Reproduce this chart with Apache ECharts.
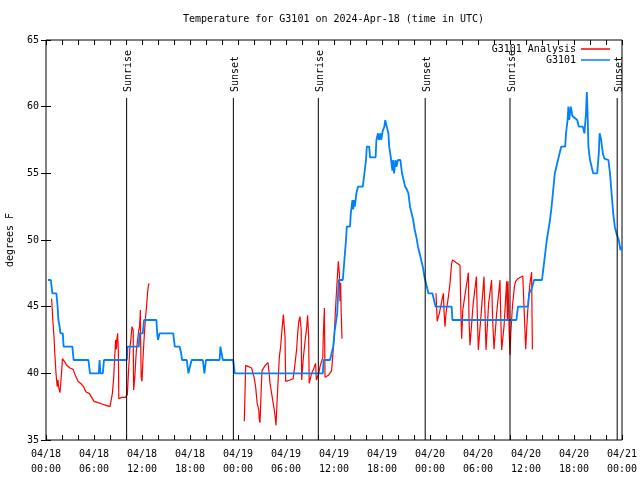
<!DOCTYPE html>
<html>
<head>
<meta charset="utf-8">
<script src="https://cdn.jsdelivr.net/npm/echarts@6/dist/echarts.min.js"></script>
<style>html,body{margin:0;padding:0;background:#fff}#c{width:640px;height:480px}</style>
</head>
<body>
<div id="c"></div>
<script>
// hours since 2024-04-18 00:00 UTC, temperature in degrees F
const stationData = [
[0.25,47],[0.6,47],[0.7,46.5],[0.8,46],[1.3,46],[1.45,45],[1.55,44],[1.7,43.5],[1.8,43],[2.1,43],[2.2,42],[3.3,42],[3.45,41],[5.3,41],[5.5,40],[6.6,40],[6.7,41],[6.8,40],[7.1,40],[7.25,41],[10.1,41],[10.2,42],[11.6,42],[11.7,43],[12.1,43],[12.25,44],[13.8,44],[13.9,43],[14.0,42.5],[14.2,43],[15.9,43],[16.1,42],[16.7,42],[16.9,41.5],[17.0,41],[17.6,41],[17.8,40],[18.0,40],[18.2,41],[19.6,41],[19.8,40],[20.0,41],[21.7,41],[21.8,42],[22.0,42],[22.1,41],[23.4,41],[23.6,40],[34.6,40],[34.7,41],[35.5,41],[35.7,41.5],[35.9,42],[36.1,43.25],[36.4,44.5],[36.6,47],[37.1,47],[37.3,48.5],[37.5,50],[37.6,51],[38.0,51],[38.1,52],[38.3,53],[38.4,52.3],[38.5,53],[38.6,52.5],[38.8,53.5],[39.0,54],[39.6,54],[39.8,55],[40.0,56],[40.1,57],[40.4,57],[40.5,56.2],[41.2,56.2],[41.3,57.5],[41.5,58],[41.6,57.5],[41.8,58],[41.9,57.5],[42.1,58.2],[42.3,58.5],[42.4,59],[42.6,58.5],[42.8,58],[42.9,57],[43.1,56.2],[43.3,55.2],[43.4,56],[43.5,55],[43.7,56],[43.8,55.5],[44.0,56],[44.3,56],[44.5,55],[44.7,54.5],[44.9,54],[45.1,53.8],[45.3,53.5],[45.5,52.5],[45.7,52],[45.9,51.5],[46.1,50.75],[46.3,50.2],[46.5,49.5],[46.7,49.0],[46.9,48.5],[47.1,48],[47.3,47.25],[47.5,46.75],[47.7,46.25],[47.8,46],[48.3,46],[48.5,45.5],[48.7,45],[50.7,45],[50.8,44],[58.8,44],[59.0,45],[60.25,45],[60.4,46],[60.7,46.3],[61.0,47],[62.0,47],[62.2,48],[62.4,49],[62.6,50],[62.8,50.75],[63.0,51.5],[63.2,52.5],[63.4,53.75],[63.6,55],[63.8,55.5],[64.0,56],[64.2,56.5],[64.4,57],[64.9,57],[65.0,58],[65.2,59],[65.3,60],[65.4,59],[65.6,60],[65.8,59.3],[66.4,59],[66.6,58.5],[67.1,58.5],[67.3,58],[67.5,59.5],[67.6,61.1],[67.7,59.5],[67.8,57],[68.0,56],[68.2,55.5],[68.4,55],[68.9,55],[69.1,56.5],[69.2,58],[69.4,57.5],[69.6,56.5],[69.8,56.1],[70.3,56],[70.5,55],[70.7,53.5],[70.9,52],[71.1,51],[71.3,50.5],[71.6,50],[71.8,49.25],[72,49.5]
];
const analysisData = [
[0.7,45.6],[0.85,44],[1.0,42.75],[1.1,41.5],[1.25,40],[1.4,39],[1.5,39.5],[1.6,38.9],[1.75,38.55],[1.85,39.3],[2.0,40.5],[2.05,41.1],[2.3,40.9],[2.6,40.6],[3.0,40.4],[3.4,40.3],[3.7,39.8],[4.0,39.4],[4.4,39.2],[4.7,39.0],[5.0,38.6],[5.4,38.5],[5.7,38.2],[6.0,37.9],[6.5,37.8],[7.0,37.7],[7.5,37.6],[8.0,37.5],[8.15,37.5],[8.3,38.5],[8.45,39.6],[8.55,40.8],[8.7,42.5],[8.75,42.2],[8.8,41.8],[8.85,42.5],[8.95,43.0],[9.05,41.5],[9.1,38.1],[9.5,38.2],[9.9,38.2],[10.05,38.3],
[10.17,38.4],[10.3,40.0],[10.4,41.0],[10.5,42.0],[10.6,42.5],[10.75,43.5],[10.8,43.6],[10.9,43.25],[10.95,38.75],[11.0,39.0],[11.1,39.75],[11.2,40.75],[11.3,41.75],[11.45,42.5],[11.6,43.25],[11.7,43.5],[11.8,44.75],[11.83,42.5],[11.9,39.75],[12.0,39.4],[12.1,40.75],[12.2,42],[12.33,43.25],[12.45,44.25],[12.58,45.1],[12.7,46.1],[12.83,46.7],[12.96,46.7],
[13.0,'-'],
[24.79,36.4],[24.96,40.6],[25.7,40.4],[25.9,40.3],[26.04,39.6],[26.2,39.0],[26.4,37.75],[26.6,37.25],[26.67,36.5],[26.75,36.3],[26.9,38.75],[27.0,40.2],[27.4,40.6],[27.75,40.8],[27.9,40.0],[28.0,39.25],[28.2,38.5],[28.4,37.75],[28.6,37.0],[28.75,36.1],[28.9,38.1],[29.04,39.75],[29.17,41.25],[29.33,42],[29.46,43.0],[29.67,44.4],[29.8,44.5],[29.875,42.75],[29.96,39.4],[30.5,39.5],[30.9,39.6],[31.1,40.6],[31.33,41.8],[31.46,43.0],[31.6,43.9],[31.75,44.25],[31.9,43.25],[31.96,39.5],[32.04,40.2],[32.17,41.2],[32.4,42.5],[32.6,43.5],[32.7,44.35],[32.83,42.75],[32.9,39.25],[33.2,40.0],[33.4,40.25],[33.7,40.75],[33.8,39.5],[33.96,39.4],[34.1,40.0],[34.25,40.5],[34.6,41.2],[34.67,43.0],[34.8,44.9],[34.875,39.7],[35.3,39.85],[35.7,40.2],[35.9,40.3],[36.0,42.5],[36.1,43.75],[36.25,45.5],[36.4,47.0],[36.54,48.4],[36.67,47.5],[36.75,45.4],[36.83,46.8],[36.9,44.5],[37.0,42.6],
[37.1,'-'],
[48.75,46],[48.9,43.9],[49.04,44.25],[49.17,44.5],[49.33,45],[49.58,45.75],[49.67,46],[49.75,44.75],[49.875,43.5],[50.0,44.5],[50.3,45.75],[50.5,46.75],[50.7,48.25],[50.83,48.5],[51.3,48.3],[51.75,48.1],[51.83,45.4],[51.96,42.6],[52.1,44.75],[52.4,46.0],[52.8,47.55],[52.875,44.0],[53.0,42.1],[53.4,45.25],[53.8,47.25],[53.9,44.75],[54.04,41.75],[54.46,45],[54.75,47.25],[54.875,44.5],[55.0,41.75],[55.33,45.25],[55.7,47.0],[55.83,44.0],[56.0,41.8],[56.33,44.5],[56.75,47.0],[56.83,44.5],[56.96,41.75],[57.25,43.5],[57.58,46.9],[57.67,44],[57.75,46.9],[57.9,43],[58.0,41.4],[58.1,43],[58.3,45],[58.55,46.5],[58.7,46.9],[59.0,47.1],[59.3,47.2],[59.6,47.3],[59.75,45],[59.96,41.8],[60.1,43.5],[60.3,45.5],[60.5,46.75],[60.7,47.6],[60.75,44.5],[60.8,41.8]
];
const sunHours = [10.08, 23.42, 34.04, 47.4, 58.0, 71.4];
const sunLabels = ['Sunrise','Sunset','Sunrise','Sunset','Sunrise','Sunset'];
const sunLineTop = 60.65;
const xTickDates = ['04/18','04/18','04/18','04/18','04/19','04/19','04/19','04/19','04/20','04/20','04/20','04/20','04/21'];
const xTickTimes = ['00:00','06:00','12:00','18:00','00:00','06:00','12:00','18:00','00:00','06:00','12:00','18:00','00:00'];
const seriesNames = ['G3101 Analysis','G3101'];

const FONT = '"DejaVu Sans Mono", "Liberation Mono", monospace';
const chart = echarts.init(document.getElementById('c'), null, {renderer:'canvas'});
const xBase = {
  type:'value', min:0, max:72, interval:6,
  axisLine:{show:false}, splitLine:{show:false},
  axisTick:{inside:true, length:5, lineStyle:{color:'#000'}},
  minorTick:{show:true, splitNumber:3, length:5, lineStyle:{color:'#000'}},
  minorSplitLine:{show:false}
};
const yBase = {
  type:'value', min:35, max:65, interval:5,
  axisLine:{show:false}, splitLine:{show:false},
  axisTick:{inside:true, length:5, lineStyle:{color:'#000'}}
};
chart.setOption({
  animation:false,
  backgroundColor:'#fff',
  title:{text:'Temperature for G3101 on 2024-Apr-18 (time in UTC)', left:183, top:14, padding:0,
    textStyle:{fontFamily:FONT, fontSize:10, fontWeight:'normal', color:'#000'}},
  legend:{orient:'vertical', right:30, top:44, padding:0, align:'right', itemWidth:29, itemHeight:1.5, itemGap:1,
    icon:'rect', data:seriesNames,
    textStyle:{fontFamily:FONT, fontSize:10, color:'#000', width:86, align:'right'}},
  grid:{left:46, right:18, top:40, bottom:40, containLabel:false, outerBoundsMode:'none',
    show:true, borderColor:'#000', borderWidth:1, backgroundColor:'transparent'},
  xAxis:[
    Object.assign({}, xBase, {position:'bottom',
      axisLabel:{margin:7, fontFamily:FONT, fontSize:10, color:'#000', lineHeight:15,
        formatter:function(v){ const i = Math.round(v/6); return xTickDates[i] + '\n' + xTickTimes[i]; }}}),
    Object.assign({}, xBase, {position:'top', axisLabel:{show:false}})
  ],
  yAxis:[
    Object.assign({}, yBase, {position:'left', name:'degrees F', nameLocation:'middle', nameGap:31,
      nameTextStyle:{fontFamily:FONT, fontSize:10, color:'#000'},
      axisLabel:{margin:7, fontFamily:FONT, fontSize:10, color:'#000'}}),
    Object.assign({}, yBase, {position:'right', axisLabel:{show:false}})
  ],
  series:[
    {name:seriesNames[0], type:'line', data:analysisData, symbol:'none', connectNulls:false,
      lineStyle:{color:'#ff0000', width:1.2}, itemStyle:{color:'#ff0000'}, z:2},
    {name:seriesNames[1], type:'line', data:stationData, symbol:'none',
      lineStyle:{color:'#0080ff', width:1.8}, itemStyle:{color:'#0080ff'}, z:3},
    {type:'custom', data:sunHours.map(function(h){return [h, sunLineTop];}), z:4, silent:true,
      renderItem:function(params, api){
        const x = api.value(0);
        const p0 = api.coord([x, 35]);
        const p1 = api.coord([x, api.value(1)]);
        return {type:'group', children:[
          {type:'line', shape:{x1:p0[0], y1:p0[1], x2:p1[0], y2:p1[1]}, style:{stroke:'#000', lineWidth:1}},
          {type:'text', x:p1[0]+2, y:p1[1]-6, rotation:Math.PI/2,
            style:{text:sunLabels[params.dataIndex], fill:'#000', font:'10px ' + FONT, align:'left', verticalAlign:'middle'}}
        ]};
      }}
  ]
});
</script>
</body>
</html>
